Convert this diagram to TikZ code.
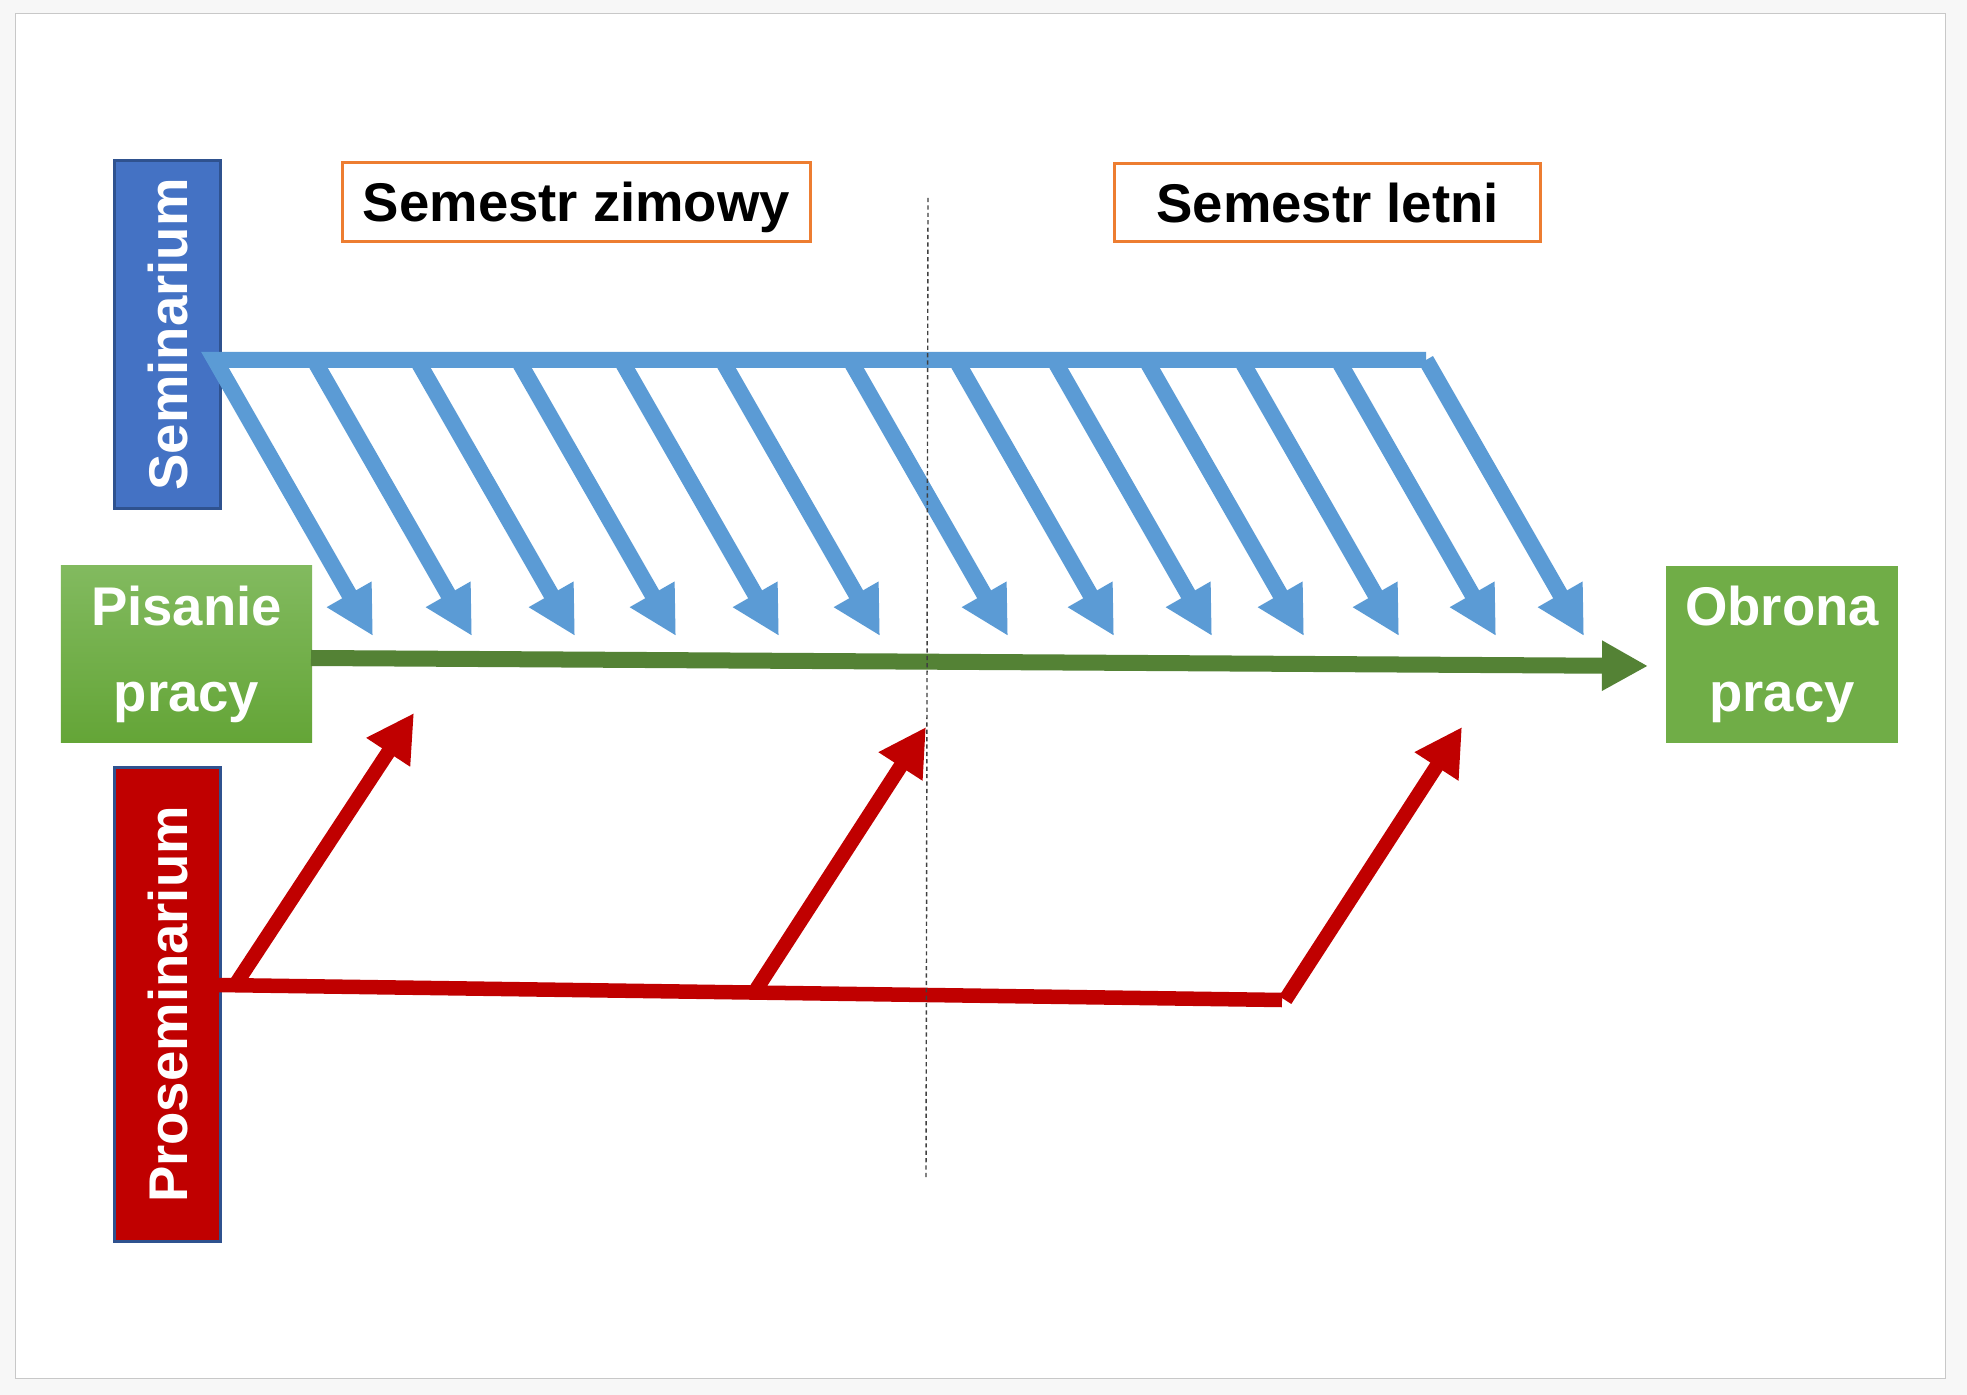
\documentclass[tikz,border=0pt]{standalone}
\usepackage{fontspec}
\setmainfont{Liberation Sans}
\usetikzlibrary{arrows.meta,positioning,calc}
\definecolor{semblue}{HTML}{4472C4}
\definecolor{semedge}{HTML}{2F528F}
\definecolor{arrblue}{HTML}{5B9BD5}
\definecolor{termorange}{HTML}{ED7D31}
\definecolor{workgreen}{HTML}{548235}
\definecolor{boxgreen}{HTML}{70AD47}
\definecolor{boxgreentop}{HTML}{82BA5F}
\definecolor{boxgreenbot}{HTML}{64A537}
\definecolor{prored}{HTML}{C00000}
\definecolor{pagegray}{HTML}{F7F7F7}
\definecolor{framegray}{HTML}{C8C8C8}

\begin{document}
\begin{tikzpicture}[x=0.01cm,y=-0.01cm,
		font=\bfseries\fontsize{15.5}{24.5}\selectfont,
		sidebox/.style={draw=semedge,line width=0.03cm,text=white,rotate=90,inner sep=0pt,text depth=0pt},
		termbox/.style={draw=termorange,line width=0.03cm,fill=white,inner sep=0pt,text depth=0pt},
		greenbox/.style={text=white,inner sep=0pt,align=center},
		semarrow/.style={arrblue,line width=0.16cm,line join=miter,-{Triangle[length=0.48cm,width=0.48cm]}},
		proline/.style={prored,line width=0.145cm},
		proarrow/.style={proline,-{Triangle[length=0.47cm,width=0.49cm]}},
		pisarrow/.style={workgreen,line width=0.16cm,-{Triangle[length=0.46cm,width=0.47cm]}},
		divline/.style={black!75,line width=0.4pt,dash pattern=on 1.2pt off 0.9pt}]
		\useasboundingbox (0,0) rectangle (1967,1395);
		% draw page
		\fill[pagegray] (0,0) rectangle (1967,1395);
		\draw[framegray,fill=white,line width=0.01cm] (15,14) rectangle (1945,1378);
		% draw boxes
		\node[sidebox,fill=semblue,minimum width=3.48cm,minimum height=1.06cm] (sem) at (167.5,334.5) {Seminarium};
		\node[sidebox,fill=prored,minimum width=4.74cm,minimum height=1.06cm] (pro) at (167.5,1004.5) {Proseminarium};
		\node[termbox,minimum width=4.68cm,minimum height=0.79cm] (zima) at (576.5,202) {Semestr zimowy};
		\node[termbox,minimum width=4.26cm,minimum height=0.78cm] (lato) at (1327.5,202.5) {Semestr letni};
		\node[greenbox,top color=boxgreentop,bottom color=boxgreenbot,minimum width=2.51cm,minimum height=1.76cm] (pis) at (186.5,654) {Pisanie\\pracy};
		\node[greenbox,fill=boxgreen,minimum width=2.32cm,minimum height=1.77cm] (obr) at (1782,654.5) {Obrona\\pracy};
		% draw seminarium arrows
		\foreach \i/\t in {1/373,2/472,3/575,4/676,5/779,6/880,7/1008,8/1114,9/1212,10/1304,11/1399,12/1496,13/1584} {
			\coordinate (st\i) at (\t-158,360);
			\coordinate (se\i) at (\t,636);
		}
		\draw[semarrow] (st13) -- (st1) -- (se1);
		\foreach \i in {2,...,13}
		\draw[semarrow] (st\i) -- (se\i);
		% draw writing line
		\coordinate (g0) at (311,658);
		\coordinate (g1) at (1648,666);
		\draw[pisarrow] (g0) -- (g1);
		% draw proseminarium arrows
		\coordinate (r0) at (218,985);
		\coordinate (r1) at (1282,1000);
		\coordinate (rt1) at (414,713);
		\coordinate (rt2) at (926,727);
		\coordinate (rt3) at (1462,727);
		\draw[proline] (r0) -- (r1);
		\draw[proarrow] ($(r0)!0.016!(r1)$) -- (rt1);
		\draw[proarrow] ($(r0)!0.504!(r1)$) -- (rt2);
		\draw[proarrow] ($(r0)!1.003!(r1)$) -- (rt3);
		% draw semester border
		\coordinate (d0) at (928,198);
		\coordinate (d1) at (926,1177);
		\draw[divline] (d0) -- (d1);
\end{tikzpicture}
\end{document}
